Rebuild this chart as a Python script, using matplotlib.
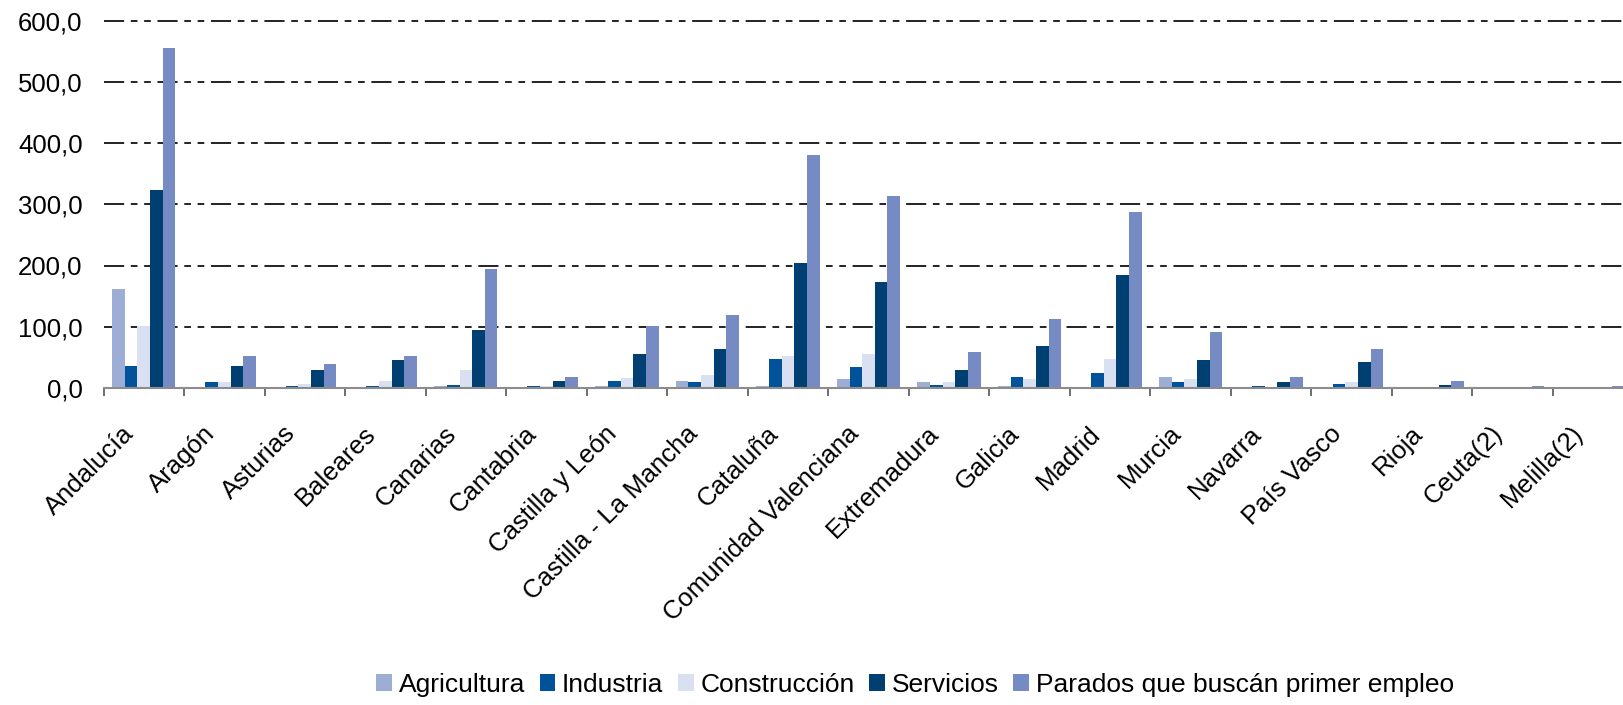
import matplotlib
matplotlib.use("Agg")
import matplotlib.pyplot as plt
import matplotlib.transforms as mtransforms
from matplotlib.patches import Patch
from matplotlib.ticker import FuncFormatter
import numpy as np

categories = ['Andalucía', 'Aragón', 'Asturias', 'Baleares', 'Canarias', 'Cantabria',
              'Castilla y León', 'Castilla - La Mancha', 'Cataluña', 'Comunidad Valenciana',
              'Extremadura', 'Galicia', 'Madrid', 'Murcia', 'Navarra', 'País Vasco',
              'Rioja', 'Ceuta(2)', 'Melilla(2)']

agricultura = [161, 1, 1, 1, 3.7, 0.5, 3.7, 12, 3.7, 14, 9, 3.7, 1, 18.5, 1, 0, 1, 0, 0]
industria = [36.5, 10.5, 2.7, 2.7, 5.5, 2.7, 12, 10.5, 48, 33.5, 5.5, 18.5, 24, 9, 3.7, 7, 1, 0, 0]
construccion = [102, 10.5, 7, 12, 30, 3.7, 17, 22, 53, 56, 10.5, 15.5, 48, 14, 2.3, 9, 2.3, 0, 0]
servicios = [324, 36.5, 30, 45, 94, 12, 56, 63, 204, 173, 30, 68, 184, 45, 10.5, 42, 5.5, 2.3, 1]
parados = [555, 51.5, 40, 51.5, 195, 18.5, 102, 120, 381, 314, 58, 112, 288, 92, 18.5, 63, 12, 3.7, 3.7]

series_names = ['Agricultura', 'Industria', 'Construcción', 'Servicios',
                'Parados que buscán primer empleo']
colors = ['#9DAED6', '#00529B', '#D8E0F2', '#003F72', '#768BC4']

plt.rcParams['font.family'] = ['Liberation Sans', 'DejaVu Sans']
plt.rcParams['lines.scale_dashes'] = False

fig = plt.figure(figsize=(16.23, 7.05), dpi=100)
# plot area runs past the right edge, like the original
ax = fig.add_axes([103.5 / 1623, 317 / 705, 1530 / 1623, 367.5 / 705])

x = np.arange(len(categories)) + 0.5
width = 0.157
data = [agricultura, industria, construccion, servicios, parados]
for j, vals in enumerate(data):
    ax.bar(x + (j - 2) * width, vals, width, color=colors[j], label=series_names[j], zorder=3)

ax.set_xlim(0, len(categories))
ax.set_ylim(0, 600)
ax.set_yticks(np.arange(0, 601, 100))
ax.yaxis.set_major_formatter(FuncFormatter(lambda v, p: f"{v:.1f}".replace('.', ',')))
ax.tick_params(axis='y', length=0, pad=15, labelsize=18.5)

# gridlines, long dash + two short dashes
for v in range(100, 601, 100):
    ax.axhline(v, color='#222222', lw=1.4, linestyle=(0, (14.5, 4.8, 4.8, 4.8, 4.8, 4.8)),
               zorder=1, clip_on=False)

# category boundaries as ticks, names at slot centres
ax.set_xticks(np.arange(0, len(categories) + 1))
ax.set_xticklabels([])
ax.set_xticks(x, minor=True)
ax.set_xticklabels(categories, minor=True, rotation=45, ha='right', fontsize=18.5)
ax.tick_params(axis='x', which='major', length=6, width=1.2, color='#555555')
ax.tick_params(axis='x', which='minor', length=0, pad=24)
offset = mtransforms.ScaledTranslation(-5 / 100, 0, fig.dpi_scale_trans)
for lab in ax.get_xticklabels(minor=True):
    lab.set_transform(lab.get_transform() + offset)

for s in ['top', 'right', 'left']:
    ax.spines[s].set_visible(False)
ax.spines['bottom'].set_color('#8c8c8c')
ax.spines['bottom'].set_linewidth(1.5)
ax.spines['bottom'].set_zorder(4)

handles = [Patch(facecolor=c, label=n) for c, n in zip(colors, series_names)]
fig.legend(handles=handles, loc='center', bbox_to_anchor=(915 / 1623, 1 - 685 / 705), ncol=5,
           frameon=False, fontsize=19, handlelength=0.6, handleheight=0.6,
           handletextpad=0.25, columnspacing=0.55, borderaxespad=0)

fig.savefig('out.png', dpi=100)
